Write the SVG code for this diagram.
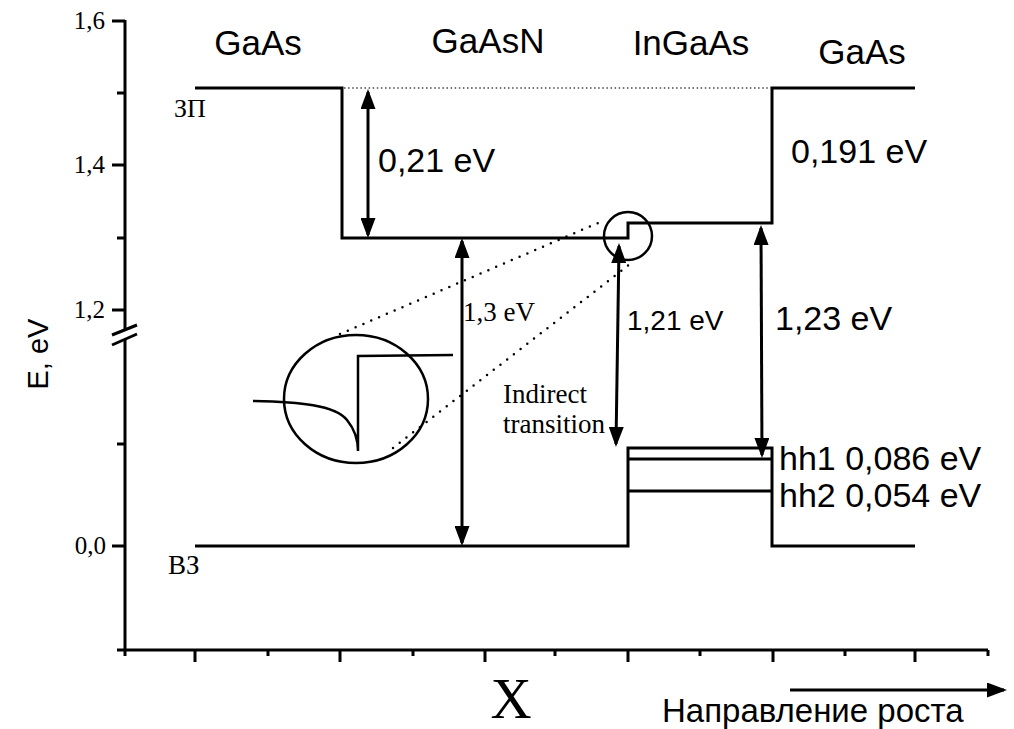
<svg xmlns="http://www.w3.org/2000/svg" width="1014" height="729" viewBox="0 0 1014 729">
<style>
.ln{fill:none;stroke:#000;stroke-width:3}
.thin{fill:none;stroke:#000;stroke-width:2.5}
.ar{fill:none;stroke:#000;stroke-width:3;marker-start:url(#ah);marker-end:url(#ah)}
.ar1{fill:none;stroke:#000;stroke-width:3;marker-end:url(#ah)}
.dots{fill:none;stroke:#000;stroke-width:2.5;stroke-linecap:round;stroke-dasharray:0 8.5}
.fdots{fill:none;stroke:#444;stroke-width:1.5;stroke-dasharray:1.5 2.6}
.sans{font-family:"Liberation Sans",Arial,sans-serif;fill:#000}
.serif{font-family:"Liberation Serif","Times New Roman",serif;fill:#000}
.big{font-size:34px}
.lay{font-size:35px}
.tick{font-size:25px}
</style>
<defs>
<marker id="ah" markerUnits="userSpaceOnUse" viewBox="0 0 20 15" markerWidth="20" markerHeight="15" refX="17" refY="7.5" orient="auto-start-reverse">
<path d="M0,0 L20,7.5 L0,15 z" fill="#000"/>
</marker>
</defs>

<g id="axes">
<path class="ln" d="M125,20 V330 M125,340 V650 M117,650 H988"/>
<path class="ln" d="M112,21 H125 M117,93 H125 M112,165 H125 M117,238 H125 M112,310 H125 M117,444 H125 M112,546 H125"/>
<path class="ln" d="M112,335 L137,325 M112,345 L137,334"/>
<path class="ln" d="M125,650 V656 M195,650 V662 M268,650 V656 M340,650 V662 M413,650 V656 M485,650 V662 M555,650 V656 M628,650 V662 M700,650 V656 M773,650 V662 M845,650 V656 M915,650 V662 M988,650 V656"/>
<text class="serif tick" x="105" y="29" text-anchor="end">1,6</text>
<text class="serif tick" x="105" y="173" text-anchor="end">1,4</text>
<text class="serif tick" x="105" y="318" text-anchor="end">1,2</text>
<text class="serif tick" x="106" y="554" text-anchor="end">0,0</text>
<text class="sans" font-size="29" transform="translate(48,354) rotate(-90)" text-anchor="middle">E, eV</text>
<text class="serif" font-size="57" x="511" y="718" text-anchor="middle">X</text>
</g>

<g id="conduction-band">
<path class="ln" d="M195,88 H342 V238 H628 V223 H772 V88 H915"/>
<path class="fdots" d="M344,88 H771"/>
<text class="serif" font-size="26" x="174" y="117">ЗП</text>
</g>

<g id="valence-band">
<path class="ln" d="M195,546 H628 V448 H772 V546 H915"/>
<path class="ln" d="M628,459 H772 M628,491 H772"/>
<text class="serif" font-size="27" x="168" y="574">ВЗ</text>
<text class="sans big" x="779" y="470">hh1 0,086 eV</text>
<text class="sans big" x="779" y="507">hh2 0,054 eV</text>
</g>

<g id="layer-labels">
<text class="sans lay" x="258" y="55" text-anchor="middle">GaAs</text>
<text class="sans lay" x="488" y="53" text-anchor="middle">GaAsN</text>
<text class="sans lay" x="691" y="55" text-anchor="middle">InGaAs</text>
<text class="sans lay" x="862" y="64" text-anchor="middle">GaAs</text>
</g>

<g id="inset">
<circle class="thin" cx="628" cy="236" r="24"/>
<ellipse class="thin" cx="356" cy="399" rx="72" ry="64"/>
<path class="thin" d="M253,401 C300,402 335,405 347,420 C356,431 358,442 358,451 V356 L453,355"/>
<path class="dots" d="M340,334 L605,220 M393,448 L634,261"/>
</g>

<g id="connectors">
<path class="ar" d="M368,92 V235"/>
<path class="ar" d="M462,241 V543"/>
<path class="ar" d="M619,246 L616,444"/>
<path class="ar" d="M761,228 L762,455"/>
<path class="ar1" d="M790,690 H1004"/>
</g>

<g id="transition-labels">
<text class="sans big" x="378" y="172">0,21 eV</text>
<text class="sans big" x="791" y="163">0,191 eV</text>
<text class="serif" font-size="27" x="463" y="321">1,3 eV</text>
<text class="sans" font-size="28" x="627" y="330">1,21 eV</text>
<text class="sans big" x="775" y="330">1,23 eV</text>
<text class="serif" font-size="27" x="503" y="403">Indirect</text>
<text class="serif" font-size="27" x="503" y="433">transition</text>
<text class="sans" font-size="33" x="662" y="722">Направление роста</text>
</g>
</svg>
